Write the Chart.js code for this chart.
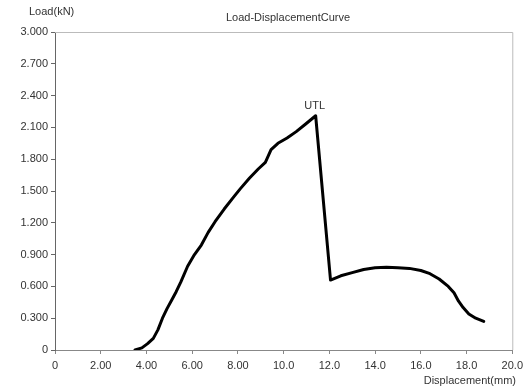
<!DOCTYPE html>
<html>
<head>
<meta charset="utf-8">
<script src="https://cdn.jsdelivr.net/npm/chart.js@4/dist/chart.umd.min.js"></script>
<style>
  html, body { margin: 0; padding: 0; background: #fff; }
  #wrap { width: 528px; height: 387px; position: relative; }
</style>
</head>
<body>
<div id="wrap"><canvas id="chart"></canvas></div>
<script>
  // values
  const displacement = [3.5, 3.8, 4.05, 4.3, 4.5, 4.7, 4.9, 5.1, 5.3, 5.5, 5.8, 6.1, 6.4, 6.7, 7.0, 7.4, 7.8, 8.1, 8.5, 8.9, 9.2, 9.45, 9.75, 10.15, 10.55, 10.95, 11.4,
                        12.05, 12.5, 13.0, 13.5, 14.0, 14.5, 15.0, 15.5, 16.0, 16.4, 16.8, 17.2, 17.45, 17.65, 17.85, 18.1, 18.4, 18.75];
  const load = [0, 0.02, 0.06, 0.11, 0.19, 0.30, 0.39, 0.47, 0.55, 0.64, 0.79, 0.90, 0.99, 1.11, 1.21, 1.33, 1.44, 1.52, 1.62, 1.71, 1.77, 1.89, 1.95, 2.00, 2.06, 2.13, 2.21,
                0.66, 0.70, 0.73, 0.76, 0.775, 0.78, 0.775, 0.77, 0.75, 0.72, 0.67, 0.60, 0.54, 0.46, 0.40, 0.34, 0.30, 0.27];
  const yTicks = [0, 0.3, 0.6, 0.9, 1.2, 1.5, 1.8, 2.1, 2.4, 2.7, 3.0];
  const yTickLabels = ["0", "0.300", "0.600", "0.900", "1.200", "1.500", "1.800", "2.100", "2.400", "2.700", "3.000"];
  const xTicks = [0, 2, 4, 6, 8, 10, 12, 14, 16, 18, 20];
  const xTickLabels = ["0", "2.00", "4.00", "6.00", "8.00", "10.0", "12.0", "14.0", "16.0", "18.0", "20.0"];
  const peakLabel = "UTL";

  const FONT = "'Liberation Sans', Arial, sans-serif";

  const decor = {
    id: "decor",
    afterDraw(chart) {
      const { ctx, chartArea: a, scales } = chart;
      ctx.save();
      // faint frame on top and right
      ctx.strokeStyle = "#bbb";
      ctx.lineWidth = 1;
      ctx.beginPath();
      ctx.moveTo(a.left, a.top + 0.5);
      ctx.lineTo(a.right + 0.5, a.top + 0.5);
      ctx.lineTo(a.right + 0.5, a.bottom);
      ctx.stroke();

      ctx.fillStyle = "#333";
      ctx.font = "11px " + FONT;
      ctx.textBaseline = "middle";
      ctx.textAlign = "center";
      ctx.fillText("Load-DisplacementCurve", 288, 18);
      ctx.textAlign = "left";
      ctx.fillText("Load(kN)", 29, 12);
      ctx.textAlign = "right";
      ctx.fillText("Displacement(mm)", 516, 381);

      // label at peak
      let pk = 0;
      load.forEach((v, i) => { if (v > load[pk]) pk = i; });
      const px = scales.x.getPixelForValue(displacement[pk]);
      const py = scales.y.getPixelForValue(load[pk]);
      ctx.textAlign = "center";
      ctx.fillText(peakLabel, px - 1, py - 10);
      ctx.restore();
    }
  };

  new Chart(document.getElementById("chart"), {
    type: "line",
    data: {
      datasets: [{
        data: displacement.map((x, i) => ({ x: x, y: load[i] })),
        borderColor: "#000",
        borderWidth: 3,
        borderJoinStyle: "round",
        borderCapStyle: "round",
        pointRadius: 0,
        tension: 0,
        fill: false
      }]
    },
    options: {
      responsive: true,
      maintainAspectRatio: false,
      animation: false,
      layout: { padding: { top: 32, right: 10, left: 0, bottom: 0 } },
      plugins: { legend: { display: false }, tooltip: { enabled: false } },
      scales: {
        x: {
          type: "linear",
          min: 0,
          max: 20,
          afterBuildTicks: (s) => { s.ticks = xTicks.map(v => ({ value: v })); },
          afterFit: (s) => { s.height = 37; },
          ticks: {
            callback: (v) => xTickLabels[xTicks.indexOf(v)],
            color: "#333",
            font: { family: FONT, size: 11 },
            padding: 5,
            maxRotation: 0,
            autoSkip: false
          },
          grid: { drawOnChartArea: false, drawTicks: true, tickLength: 4, color: "#888" },
          border: { color: "#888", width: 1 }
        },
        y: {
          min: 0,
          max: 3,
          afterBuildTicks: (s) => { s.ticks = yTicks.map(v => ({ value: v })); },
          afterFit: (s) => { s.width = 55; },
          ticks: {
            callback: (v) => yTickLabels[yTicks.findIndex(t => Math.abs(t - v) < 1e-6)],
            color: "#333",
            font: { family: FONT, size: 11 },
            padding: 3,
            autoSkip: false
          },
          grid: { drawOnChartArea: false, drawTicks: true, tickLength: 4, color: "#666" },
          border: { color: "#666", width: 1 }
        }
      }
    },
    plugins: [decor]
  });
</script>
</body>
</html>
